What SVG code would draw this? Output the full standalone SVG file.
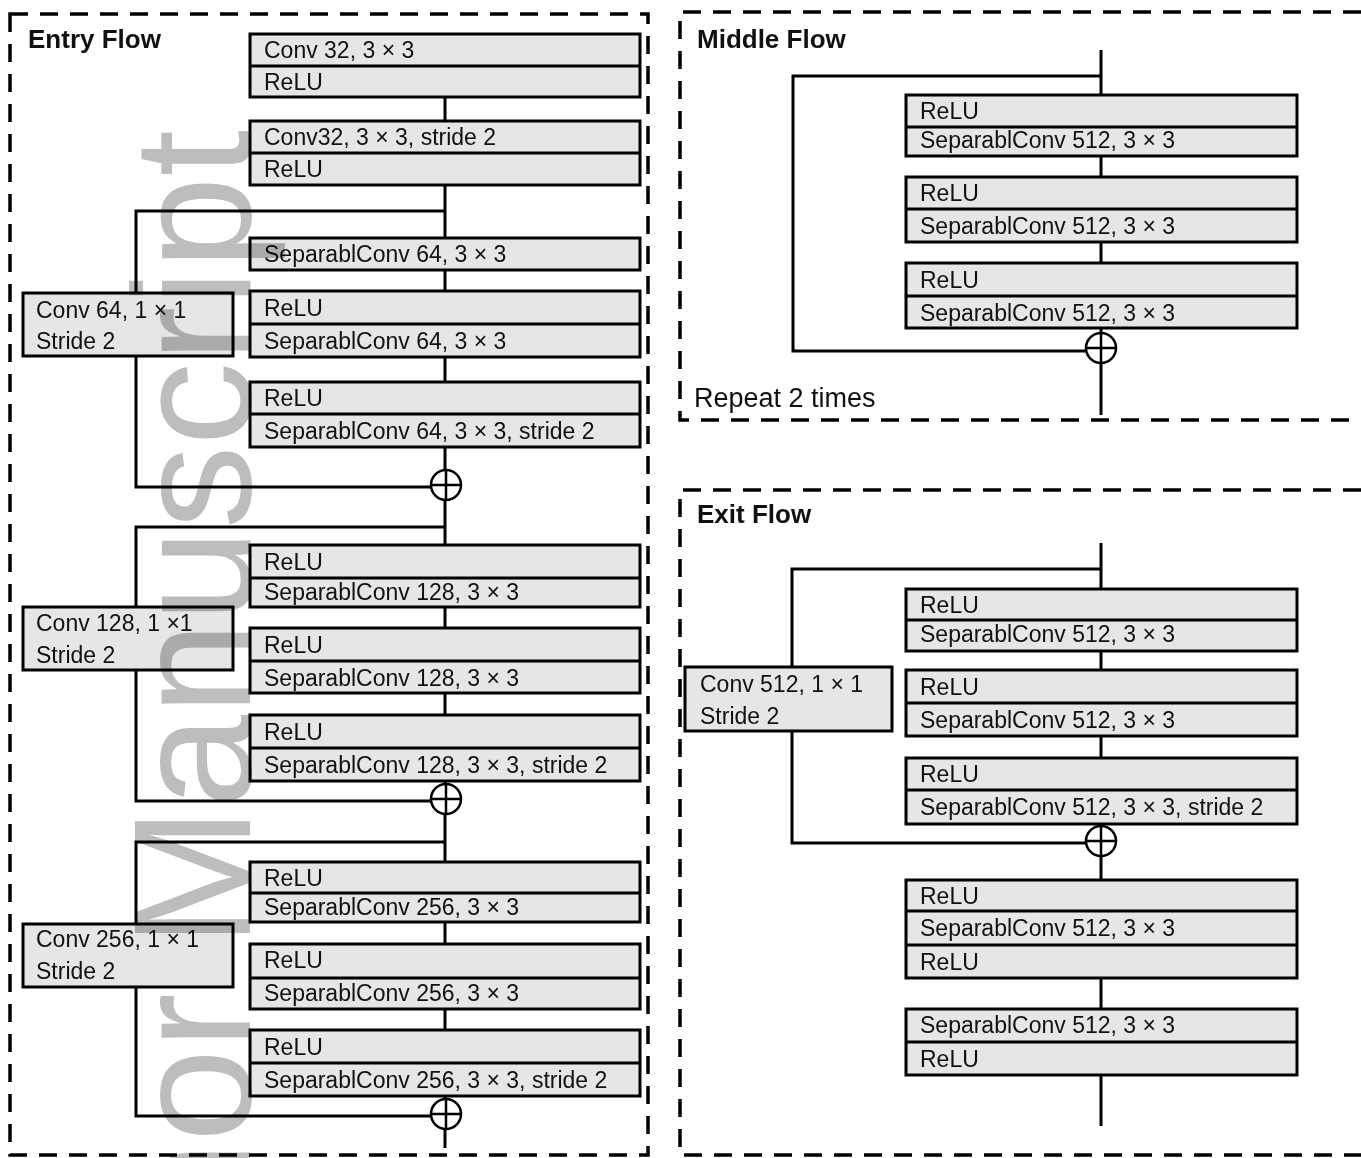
<svg xmlns="http://www.w3.org/2000/svg" width="1361" height="1158" viewBox="0 0 1361 1158">
<style>
.bx{fill:#e7e5e5;stroke:#000;stroke-width:3}
.dv{stroke:#000;stroke-width:3}
.t{font-family:"Liberation Sans",Arial,sans-serif;font-size:23px;fill:#111}
.ttl{font-family:"Liberation Sans",Arial,sans-serif;font-size:26px;font-weight:bold;fill:#111}
.rep{font-family:"Liberation Sans",Arial,sans-serif;font-size:27px;fill:#111}
.ln{fill:none;stroke:#000;stroke-width:3}
.dash{fill:none;stroke:#000;stroke-width:3.5;stroke-dasharray:18 12}
.pc{fill:#fff;stroke:#000;stroke-width:2.5}
.wm{font-family:"Liberation Sans",Arial,sans-serif;font-size:167px;fill:#bdbdbd;mix-blend-mode:multiply}
</style>
<defs>
<g id="plus"><circle cx="0" cy="0" r="15" class="pc"/><path d="M-15 0H15M0 -15V15" stroke="#000" stroke-width="2.5"/></g>
</defs>
<rect x="0" y="0" width="1361" height="1158" fill="#fff"/>

<g id="frames">
<rect x="10" y="14" width="638" height="1141" class="dash"/>
<path d="M1361 12H680V420H1361" class="dash"/>
<path d="M1361 490H680V1155H1361" class="dash"/>
</g>

<g id="titles">
<text x="28" y="48" class="ttl">Entry Flow</text>
<text x="697" y="48" class="ttl">Middle Flow</text>
<text x="697" y="523" class="ttl">Exit Flow</text>
<text x="694" y="407" class="rep">Repeat 2 times</text>
</g>

<g id="connectors">
<!-- entry -->
<path d="M445 97V121M445 185V238M445 270V291M445 357V382M445 447V470" class="ln"/>
<path d="M445 211H136V293M136 356V487H431" class="ln"/>
<path d="M445 500V545M445 607V628M445 693V715M445 781V784" class="ln"/>
<path d="M445 527H136V607M136 670V801H431" class="ln"/>
<path d="M445 814V862M445 922V944M445 1009V1030M445 1096V1099" class="ln"/>
<path d="M445 842H136V924M136 987V1116H431" class="ln"/>
<path d="M445 1129V1148" class="ln"/>
<!-- middle -->
<path d="M1101 50V95M1101 156V177M1101 242V263M1101 328V333M1101 363V415" class="ln"/>
<path d="M1101 76H793V351H1086" class="ln"/>
<!-- exit -->
<path d="M1101 543V589M1101 651V670M1101 736V758M1101 824V826M1101 856V880M1101 978V1009M1101 1075V1126" class="ln"/>
<path d="M1101 569H792V667M792 731V843H1086" class="ln"/>
</g>

<g id="sums">
<use href="#plus" x="446" y="485"/>
<use href="#plus" x="446" y="799"/>
<use href="#plus" x="446" y="1114"/>
<use href="#plus" x="1101" y="348"/>
<use href="#plus" x="1101" y="841"/>
</g>

<!-- Entry flow main boxes -->
<g id="e1"><rect x="250" y="34" width="390" height="63" class="bx"/><path d="M250 66H640" class="dv"/>
<text x="264" y="58" class="t">Conv 32, 3 × 3</text><text x="264" y="90" class="t">ReLU</text></g>
<g id="e2"><rect x="250" y="121" width="390" height="64" class="bx"/><path d="M250 153H640" class="dv"/>
<text x="264" y="145" class="t">Conv32, 3 × 3, stride 2</text><text x="264" y="177" class="t">ReLU</text></g>
<g id="e3"><rect x="250" y="238" width="390" height="32" class="bx"/>
<text x="264" y="262" class="t">SeparablConv 64, 3 × 3</text></g>
<g id="e4"><rect x="250" y="291" width="390" height="66" class="bx"/><path d="M250 324H640" class="dv"/>
<text x="264" y="316" class="t">ReLU</text><text x="264" y="349" class="t">SeparablConv 64, 3 × 3</text></g>
<g id="e5"><rect x="250" y="382" width="390" height="65" class="bx"/><path d="M250 414H640" class="dv"/>
<text x="264" y="406" class="t">ReLU</text><text x="264" y="439" class="t">SeparablConv 64, 3 × 3, stride 2</text></g>
<g id="e6"><rect x="250" y="545" width="390" height="62" class="bx"/><path d="M250 578H640" class="dv"/>
<text x="264" y="570" class="t">ReLU</text><text x="264" y="600" class="t">SeparablConv 128, 3 × 3</text></g>
<g id="e7"><rect x="250" y="628" width="390" height="65" class="bx"/><path d="M250 661H640" class="dv"/>
<text x="264" y="653" class="t">ReLU</text><text x="264" y="686" class="t">SeparablConv 128, 3 × 3</text></g>
<g id="e8"><rect x="250" y="715" width="390" height="66" class="bx"/><path d="M250 748H640" class="dv"/>
<text x="264" y="740" class="t">ReLU</text><text x="264" y="773" class="t">SeparablConv 128, 3 × 3, stride 2</text></g>
<g id="e9"><rect x="250" y="862" width="390" height="60" class="bx"/><path d="M250 893H640" class="dv"/>
<text x="264" y="886" class="t">ReLU</text><text x="264" y="915" class="t">SeparablConv 256, 3 × 3</text></g>
<g id="e10"><rect x="250" y="944" width="390" height="65" class="bx"/><path d="M250 978H640" class="dv"/>
<text x="264" y="968" class="t">ReLU</text><text x="264" y="1001" class="t">SeparablConv 256, 3 × 3</text></g>
<g id="e11"><rect x="250" y="1030" width="390" height="66" class="bx"/><path d="M250 1063H640" class="dv"/>
<text x="264" y="1055" class="t">ReLU</text><text x="264" y="1088" class="t">SeparablConv 256, 3 × 3, stride 2</text></g>

<!-- Entry shortcut boxes -->
<g id="s64"><rect x="23" y="293" width="210" height="63" class="bx"/>
<text x="36" y="318" class="t">Conv 64, 1 × 1</text><text x="36" y="349" class="t">Stride 2</text></g>
<g id="s128"><rect x="23" y="607" width="210" height="63" class="bx"/>
<text x="36" y="631" class="t">Conv 128, 1 ×1</text><text x="36" y="663" class="t">Stride 2</text></g>
<g id="s256"><rect x="23" y="924" width="210" height="63" class="bx"/>
<text x="36" y="947" class="t">Conv 256, 1 × 1</text><text x="36" y="979" class="t">Stride 2</text></g>

<!-- Middle flow boxes -->
<g id="m1"><rect x="906" y="95" width="391" height="61" class="bx"/><path d="M906 127H1297" class="dv"/>
<text x="920" y="119" class="t">ReLU</text><text x="920" y="148" class="t">SeparablConv 512, 3 × 3</text></g>
<g id="m2"><rect x="906" y="177" width="391" height="65" class="bx"/><path d="M906 209H1297" class="dv"/>
<text x="920" y="201" class="t">ReLU</text><text x="920" y="234" class="t">SeparablConv 512, 3 × 3</text></g>
<g id="m3"><rect x="906" y="263" width="391" height="65" class="bx"/><path d="M906 296H1297" class="dv"/>
<text x="920" y="288" class="t">ReLU</text><text x="920" y="321" class="t">SeparablConv 512, 3 × 3</text></g>

<!-- Exit flow boxes -->
<g id="x1"><rect x="906" y="589" width="391" height="62" class="bx"/><path d="M906 620H1297" class="dv"/>
<text x="920" y="613" class="t">ReLU</text><text x="920" y="642" class="t">SeparablConv 512, 3 × 3</text></g>
<g id="x2"><rect x="906" y="670" width="391" height="66" class="bx"/><path d="M906 703H1297" class="dv"/>
<text x="920" y="695" class="t">ReLU</text><text x="920" y="728" class="t">SeparablConv 512, 3 × 3</text></g>
<g id="x3"><rect x="906" y="758" width="391" height="66" class="bx"/><path d="M906 790H1297" class="dv"/>
<text x="920" y="782" class="t">ReLU</text><text x="920" y="815" class="t">SeparablConv 512, 3 × 3, stride 2</text></g>
<g id="x4"><rect x="906" y="880" width="391" height="98" class="bx"/><path d="M906 911H1297M906 945H1297" class="dv"/>
<text x="920" y="904" class="t">ReLU</text><text x="920" y="936" class="t">SeparablConv 512, 3 × 3</text><text x="920" y="970" class="t">ReLU</text></g>
<g id="x5"><rect x="906" y="1009" width="391" height="66" class="bx"/><path d="M906 1042H1297" class="dv"/>
<text x="920" y="1033" class="t">SeparablConv 512, 3 × 3</text><text x="920" y="1067" class="t">ReLU</text></g>
<g id="xs"><rect x="685" y="667" width="207" height="64" class="bx"/>
<text x="700" y="692" class="t">Conv 512, 1 × 1</text><text x="700" y="724" class="t">Stride 2</text></g>

<g id="watermark">
<text class="wm" text-anchor="end" transform="translate(250,130) rotate(-90)">Author Manuscript</text>
</g>
</svg>
